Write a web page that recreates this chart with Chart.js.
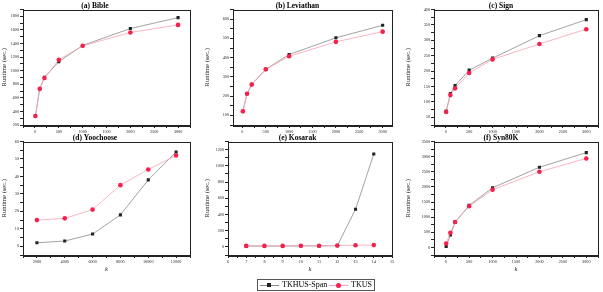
<!DOCTYPE html>
<html>
<head>
<meta charset="utf-8">
<script src="https://cdn.jsdelivr.net/npm/chart.js@4.4.0/dist/chart.umd.min.js"></script>
<style>
  body { margin: 0; background: #fff; width: 603px; height: 292px; position: relative; overflow: hidden; font-family: "Liberation Serif", serif; }
  canvas { position: absolute; }
  #legend { position: absolute; left: 257px; top: 279px; width: 118px; height: 12px; border: 1px solid #555; box-sizing: border-box; font-size: 8px; line-height: 10px; white-space: nowrap; }
  #legend span { position: absolute; top: 0; }
  .ln { position: absolute; top: 5px; height: 1px; width: 19px; }
  .mk { position: absolute; }
</style>
</head>
<body>
<canvas id="c1"></canvas>
<canvas id="c2"></canvas>
<canvas id="c3"></canvas>
<canvas id="c4"></canvas>
<canvas id="c5"></canvas>
<canvas id="c6"></canvas>
<div id="legend">
  <div class="ln" style="left:2px;background:#888"></div>
  <div class="mk" style="left:9px;top:3px;width:4px;height:4px;background:#222"></div>
  <span style="left:24px">TKHUS-Span</span>
  <div class="ln" style="left:71px;background:#f7a3b3"></div>
  <div class="mk" style="left:78px;top:3px;width:5px;height:5px;border-radius:50%;background:#f5204c"></div>
  <span style="left:93px">TKUS</span>
</div>
<script>
// values
const kLarge = [10, 100, 200, 500, 1000, 2000, 3000];
const bibleSpan = [332, 732, 902, 1132, 1370, 1620, 1780];
const bibleTkus = [332, 732, 892, 1161, 1365, 1562, 1673];
const leviathanSpan = [121, 212, 261, 339, 416, 503, 568];
const leviathanTkus = [121, 212, 260, 339, 407, 482, 535];
const signSpan = [70, 127, 153, 203, 242, 315, 367];
const signTkus = [67, 122, 144, 194, 238, 288, 336];
const kYoo = [2000, 4000, 6000, 8000, 10000, 12000];
const yooSpan = [2, 3, 7, 18, 38, 54];
const yooTkus = [15, 16, 21, 35, 44, 52];
const kKosarak = [7, 8, 9, 10, 11, 12, 13, 14];
const kosarakSpan = [10, 10, 10, 12, 12, 15, 465, 1145];
const kosarakTkus = [12, 12, 12, 14, 14, 17, 20, 22];
const synSpan = [32, 410, 830, 1390, 1970, 2649, 3134];
const synTkus = [130, 485, 840, 1360, 1905, 2500, 2940];

const FONT = "'Liberation Serif', 'Times New Roman', serif";

// box around the plot area
const frame = {
  id: 'frame',
  afterDraw(chart) {
    const a = chart.chartArea, ctx = chart.ctx;
    ctx.save();
    ctx.strokeStyle = '#222';
    ctx.lineWidth = 1;
    ctx.strokeRect(Math.round(a.left) + 0.5, Math.round(a.top) + 0.5, Math.round(a.right - a.left), Math.round(a.bottom - a.top));
    ctx.restore();
  }
};

function axis(min, max, step, major, first, last, width, height, title) {
  const s = {
    type: 'linear', min: min, max: max,
    grid: { drawOnChartArea: false, tickLength: 3, tickColor: '#222' },
    border: { color: '#222' },
    ticks: {
      stepSize: step, autoSkip: false, maxRotation: 0, padding: 1, includeBounds: false,
      color: '#222', font: { family: FONT, size: 4.2 },
      callback: v => (Math.abs(v / major - Math.round(v / major)) < 1e-6 && v >= first && v <= last) ? v : ''
    }
  };
  if (width) s.afterFit = sc => { sc.width = width; };
  if (height) s.afterFit = sc => { sc.height = height; };
  if (title) s.title = title;
  return s;
}

function panel(id, box, name, xs, span, tkus, xs_, ys_) {
  const cv = document.getElementById(id);
  cv.width = box.w; cv.height = box.h;
  cv.style.left = box.x + 'px'; cv.style.top = box.y + 'px';
  new Chart(cv, {
    type: 'line',
    data: {
      datasets: [{
        label: 'TKHUS-Span',
        data: xs.map((x, i) => ({ x: x, y: span[i] })),
        borderColor: '#8a8a8a', borderWidth: 0.8,
        pointStyle: 'rect', pointRadius: 2.2, pointBackgroundColor: '#222', pointBorderColor: '#222', pointBorderWidth: 0,
        order: 2
      }, {
        label: 'TKUS',
        data: xs.map((x, i) => ({ x: x, y: tkus[i] })),
        borderColor: '#f7a3b3', borderWidth: 0.8,
        pointStyle: 'circle', pointRadius: 2.3, pointBackgroundColor: '#f5204c', pointBorderColor: '#f5204c', pointBorderWidth: 0,
        order: 1
      }]
    },
    options: {
      responsive: false, animation: false,
      layout: { padding: { right: box.pr, left: 0, top: 0, bottom: 0 } },
      plugins: {
        legend: { display: false }, tooltip: { enabled: false },
        title: { display: true, text: name, color: '#000', font: { family: FONT, size: 7.5, weight: 'bold', lineHeight: 1 }, padding: { top: 0, bottom: 0 } }
      },
      scales: { x: xs_, y: ys_ }
    },
    plugins: [frame]
  });
}

const yTitle = { display: true, text: 'Runtime (sec.)', color: '#222', font: { family: FONT, size: 6.5 }, padding: { top: 0, bottom: 1 } };
const kTitle = { display: true, text: 'k', color: '#222', font: { family: FONT, size: 6.5, style: 'italic' }, padding: { top: 1, bottom: 0 } };

panel('c1', { x: 0, y: 1.5, w: 196, h: 133, pr: 6 }, '(a) Bible', kLarge, bibleSpan, bibleTkus,
  axis(-250, 3250, 250, 500, 0, 3000, 0, 10),
  axis(200, 1900, 100, 200, 200, 1800, 23, 0, yTitle));
panel('c2', { x: 203, y: 1.5, w: 195, h: 133, pr: 6 }, '(b) Leviathan', kLarge, leviathanSpan, leviathanTkus,
  axis(-200, 3200, 250, 500, 0, 3000, 0, 10),
  axis(50, 650, 50, 100, 100, 600, 30, 0, yTitle));
panel('c3', { x: 404, y: 1.5, w: 199, h: 133, pr: 5 }, '(c) Sign', kLarge, signSpan, signTkus,
  axis(-250, 3250, 250, 500, 0, 3000, 0, 10),
  axis(25, 400, 25, 50, 50, 400, 30, 0, yTitle));
panel('c4', { x: 0, y: 134, w: 196, h: 139, pr: 6 }, '(d) Yoochoose', kYoo, yooSpan, yooTkus,
  axis(1000, 13000, 1000, 2000, 2000, 12000, 0, 18, kTitle),
  axis(-5, 60, 5, 10, 0, 60, 23, 0, yTitle));
panel('c5', { x: 203, y: 134, w: 195, h: 139, pr: 6 }, '(e) Kosarak', kKosarak, kosarakSpan, kosarakTkus,
  axis(6, 15, 0.5, 1, 6, 15, 0, 18, kTitle),
  axis(-100, 1300, 100, 200, 0, 1200, 25, 0, yTitle));
panel('c6', { x: 404, y: 134, w: 199, h: 139, pr: 5 }, '(f) Syn80K', kLarge, synSpan, synTkus,
  axis(-250, 3250, 250, 500, 0, 3000, 0, 18, kTitle),
  axis(-250, 3500, 250, 500, 0, 3500, 30, 0, yTitle));
</script>
</body>
</html>
